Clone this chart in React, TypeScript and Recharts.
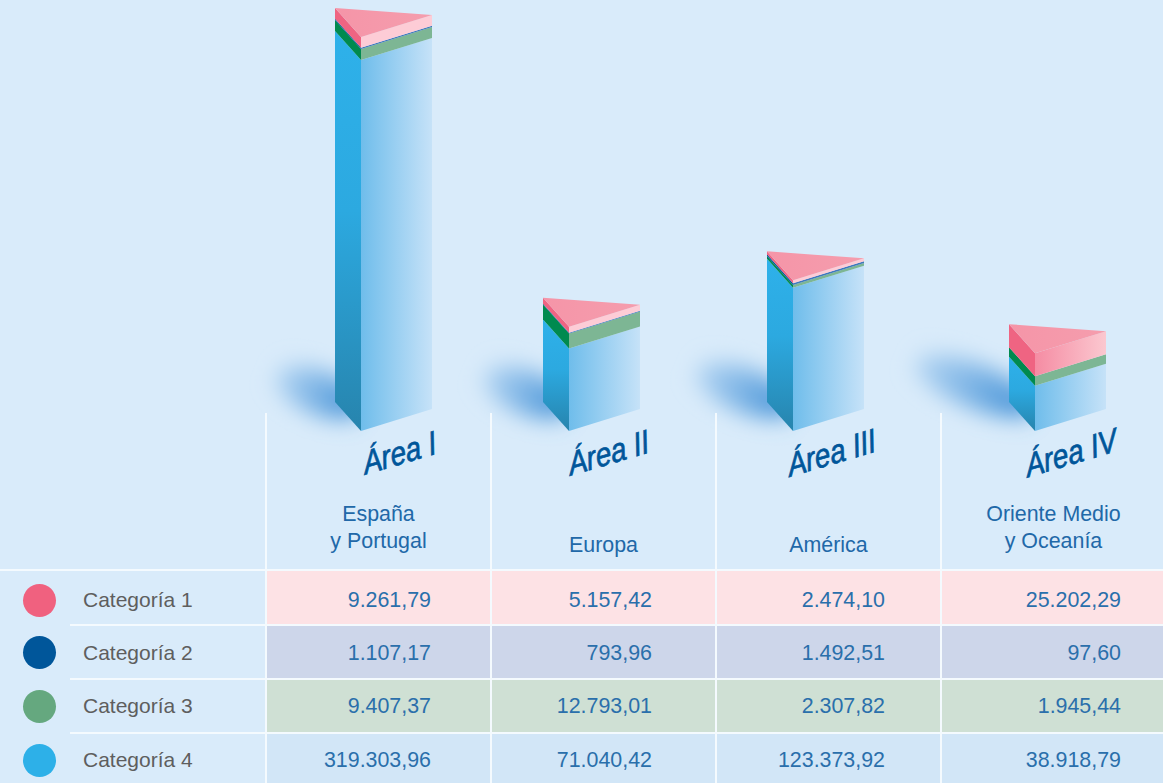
import { BarChart, Bar, XAxis, YAxis } from "recharts";

const areas = ["Área I", "Área II", "Área III", "Área IV"];
const regions = [["España", "y Portugal"], ["Europa"], ["América"], ["Oriente Medio", "y Oceanía"]];
const categories = ["Categoría 1", "Categoría 2", "Categoría 3", "Categoría 4"];

// printed in the table
const cat1 = [9261.79, 5157.42, 2474.1, 25202.29];
const cat2 = [1107.17, 793.96, 1492.51, 97.6];
const cat3 = [9407.37, 12793.01, 2307.82, 1945.44];
const cat4 = [319303.96, 71040.42, 123373.92, 38918.79];
const seriesByCategory = [cat1, cat2, cat3, cat4];

// as drawn: the Área IV bands in the picture don't follow the printed figures, read off the bar instead
const drawnCat1 = [9261.79, 5157.42, 2474.1, 19800];
const drawnCat3 = [9407.37, 12793.01, 2307.82, 8200];

const chartData = areas.map((area, i) => ({
  area,
  cat1: drawnCat1[i],
  cat2: cat2[i],
  cat3: drawnCat3[i],
  cat4: cat4[i],
}));

// the prisms do not sit in the middle of their columns
const barNudge = [5, -12, -13, 4];
const labelNudge = [23, 7, 5, 19.5];
const valueRight = [165, 161, 169, 180];
// the shadows get longer from left to right
const shadowLength = [46, 46, 52, 64];

const BG = "#D9EBFA";
const BLUE_TEXT = "#2A6FAB";
const dots = ["#F0617F", "#00569A", "#65A87F", "#2DB0E8"];
const rowFills = ["#FDE2E5", "#CDD6EA", "#CFE0D4", "#D2E6F7"];
const rowTops = [571, 626, 680, 734];
const rowBottoms = [625, 679, 733, 783];
const rowCenters = [600, 652.5, 706, 760];
const columns = [266, 491, 716, 941];
const FONT = "'Liberation Sans', Arial, sans-serif";

const pinkFace = ["#FDCCD6", "#FDCCD6", "#FDCCD6", "url(#pinkFace)"];

function makeFace(leftFill: string, rightFill: (i: number) => string, roof: boolean, shadow: boolean) {
  return function Face(props: any) {
    const { x, y, width, height, index } = props;
    const l = x + barNudge[index];
    const f = l + 26;
    const r = l + width;
    const b = y + height;
    const rx = shadowLength[index];
    const sx = l + 30 - rx;
    const sy = b - 40 - (rx - 50) * 0.35;
    return (
      <g>
        {shadow && (
          <ellipse
            cx={sx}
            cy={sy}
            rx={rx}
            ry={22}
            transform={`rotate(22 ${sx} ${sy})`}
            fill="url(#shadowFill)"
            filter="url(#blurShadow)"
          />
        )}
        <polygon points={`${l},${y - 29} ${f},${y} ${f},${b} ${l},${b - 29}`} fill={leftFill} />
        <polygon points={`${f},${y} ${r},${y - 22} ${r},${b - 22} ${f},${b}`} fill={rightFill(index)} />
        {roof && <polygon points={`${l},${y - 29} ${f},${y} ${r},${y - 22}`} fill="url(#roof)" />}
      </g>
    );
  };
}

const Face4 = makeFace("url(#blueLeft)", () => "url(#blueRight)", false, true);
const Face3 = makeFace("#008A4F", () => "#7DB694", false, false);
const Face2 = makeFace("#00569A", () => "#3E78BD", false, false);
const Face1 = makeFace("#EF6482", (i) => pinkFace[i], true, false);

function AreaTick({ x, payload, index }: any) {
  const cx = x + labelNudge[index];
  const lines = regions[index];
  const firstY = lines.length > 1 ? 520.5 : 551.5;
  return (
    <g>
      <text
        transform={`translate(${cx} 464) rotate(-16.5) skewX(-6) scale(0.86 1)`}
        textAnchor="middle"
        fontFamily={FONT}
        fontStyle="italic"
        fontSize={33}
        fill="#00569A"
        stroke="#00569A"
        strokeWidth={0.7}
      >
        {payload.value}
      </text>
      {lines.map((line: string, i: number) => (
        <text key={line} x={x} y={firstY + i * 27} textAnchor="middle" fontFamily={FONT} fontSize={21.4} fill="#2168A8">
          {line}
        </text>
      ))}
    </g>
  );
}

function formatValue(v: number) {
  return v.toLocaleString("de-DE", { minimumFractionDigits: 2, maximumFractionDigits: 2 });
}

export default function App() {
  return (
    <div style={{ position: "absolute", left: 0, top: 0, width: 1163, height: 783, overflow: "hidden", background: BG, fontFamily: FONT }}>
      <div style={{ position: "absolute", left: 0, top: 0 }}>
        <BarChart
          width={1166}
          height={783}
          data={chartData}
          barSize={97}
          margin={{ top: 24.3, right: 0, left: 266, bottom: 322 }}
        >
          <defs>
            <linearGradient id="blueLeft" x1="0" y1="0" x2="0" y2="1">
              <stop offset="0%" stopColor="#2EB1EA" />
              <stop offset="45%" stopColor="#2CA9E0" />
              <stop offset="100%" stopColor="#2784AD" />
            </linearGradient>
            <linearGradient id="blueRight" x1="0" y1="0" x2="1" y2="0">
              <stop offset="0%" stopColor="#6FBDEB" />
              <stop offset="100%" stopColor="#C6E2F8" />
            </linearGradient>
            <linearGradient id="pinkFace" x1="0" y1="0" x2="1" y2="0">
              <stop offset="0%" stopColor="#F58CA3" />
              <stop offset="100%" stopColor="#FBC8D0" />
            </linearGradient>
            <linearGradient id="roof" x1="0" y1="0" x2="1" y2="0">
              <stop offset="0%" stopColor="#F595A8" />
              <stop offset="100%" stopColor="#F59DAD" />
            </linearGradient>
            <linearGradient id="shadowFill" x1="0" y1="0" x2="1" y2="0">
              <stop offset="0%" stopColor="#B5D6F3" />
              <stop offset="100%" stopColor="#3F8FD6" />
            </linearGradient>
            <filter id="blurShadow" x="-60%" y="-120%" width="220%" height="340%">
              <feGaussianBlur stdDeviation="11" />
            </filter>
          </defs>
          <XAxis dataKey="area" interval={0} axisLine={false} tickLine={false} height={30} tick={AreaTick} />
          <YAxis hide domain={[0, 350000]} />
          <Bar dataKey="cat4" stackId="a" shape={Face4} isAnimationActive={false} />
          <Bar dataKey="cat3" stackId="a" shape={Face3} isAnimationActive={false} />
          <Bar dataKey="cat2" stackId="a" shape={Face2} isAnimationActive={false} />
          <Bar dataKey="cat1" stackId="a" shape={Face1} isAnimationActive={false} />
        </BarChart>
      </div>

      {categories.map((name, r) => (
        <div key={name}>
          <div
            style={{
              position: "absolute",
              left: 266,
              top: rowTops[r],
              width: 897,
              height: rowBottoms[r] - rowTops[r],
              background: rowFills[r],
            }}
          />
          <div
            style={{
              position: "absolute",
              left: 23,
              top: rowCenters[r] - 16.5,
              width: 33,
              height: 33,
              borderRadius: "50%",
              background: dots[r],
            }}
          />
          <div
            style={{
              position: "absolute",
              left: 83,
              top: rowCenters[r] - 12,
              fontSize: 21,
              lineHeight: "24px",
              color: "#5E5E5E",
              whiteSpace: "nowrap",
            }}
          >
            {name}
          </div>
          {seriesByCategory[r].map((v, c) => (
            <div
              key={c}
              style={{
                position: "absolute",
                left: columns[c],
                width: valueRight[c],
                top: rowCenters[r] - 12,
                fontSize: 21.4,
                lineHeight: "24px",
                color: BLUE_TEXT,
                textAlign: "right",
                whiteSpace: "nowrap",
              }}
            >
              {formatValue(v)}
            </div>
          ))}
        </div>
      ))}

      {/* white rules of the table */}
      <div style={{ position: "absolute", left: 0, top: 569, width: 1163, height: 2, background: "#F4FAFE" }} />
      {[624, 678, 732].map((top) => (
        <div key={top} style={{ position: "absolute", left: 70, top, width: 1093, height: 2, background: "#F4FAFE" }} />
      ))}
      {columns.map((left) => (
        <div key={left} style={{ position: "absolute", left: left - 1, top: 413, width: 2, height: 370, background: "#F4FAFE" }} />
      ))}
    </div>
  );
}
